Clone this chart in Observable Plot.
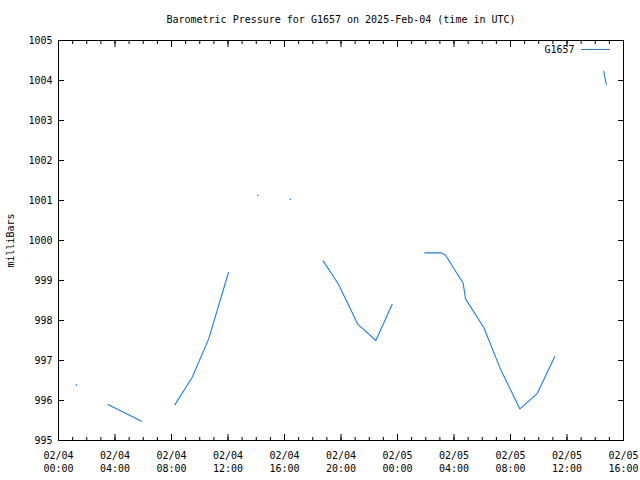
<!DOCTYPE html>
<html><head><meta charset="utf-8">
<script src="https://cdn.jsdelivr.net/npm/d3@7"></script>
<script src="https://cdn.jsdelivr.net/npm/@observablehq/plot@0.6"></script>
<style>
body{margin:0;background:#fff}
#chart{width:640px;height:480px}
</style></head><body><div id="chart"></div>
<script>
const title = "Barometric Pressure for G1657 on 2025-Feb-04 (time in UTC)";
const yLabel = "milliBars";
const seriesName = "G1657";
// null entries mark gaps in the record
const times = [
  "2025-02-04T01:16Z", null,
  "2025-02-04T03:30Z", "2025-02-04T05:53Z", null,
  "2025-02-04T08:14Z", "2025-02-04T09:28Z", "2025-02-04T10:38Z", "2025-02-04T12:02Z", null,
  "2025-02-04T14:07Z", null,
  "2025-02-04T16:25Z", null,
  "2025-02-04T18:44Z", "2025-02-04T19:48Z", "2025-02-04T21:13Z", "2025-02-04T21:34Z", "2025-02-04T22:28Z", "2025-02-04T23:37Z", null,
  "2025-02-05T01:56Z", "2025-02-05T03:07Z", "2025-02-05T03:24Z", "2025-02-05T04:39Z", "2025-02-05T04:49Z", "2025-02-05T06:07Z", "2025-02-05T07:17Z", "2025-02-05T08:40Z", "2025-02-05T09:53Z", "2025-02-05T11:08Z", null,
  "2025-02-05T14:36Z", "2025-02-05T14:47Z"
];
const pressure = [
  996.39, null,
  995.90, 995.48, null,
  995.89, 996.58, 997.54, 999.20, null,
  1001.13, null,
  1001.03, null,
  999.49, 998.92, 997.89, 997.79, 997.50, 998.40, null,
  999.69, 999.69, 999.63, 998.93, 998.54, 997.82, 996.79, 995.79, 996.17, 997.10, null,
  1004.23, 1003.90
];
const yTicks = [995, 996, 997, 998, 999, 1000, 1001, 1002, 1003, 1004, 1005];
const xTickTimes = [
  "2025-02-04T00:00Z", "2025-02-04T04:00Z", "2025-02-04T08:00Z", "2025-02-04T12:00Z",
  "2025-02-04T16:00Z", "2025-02-04T20:00Z", "2025-02-05T00:00Z", "2025-02-05T04:00Z",
  "2025-02-05T08:00Z", "2025-02-05T12:00Z", "2025-02-05T16:00Z"
];

const color = "#1a7ff0";
const rows = times.map((t, i) => ({t: t ? new Date(t) : null, p: pressure[i]}));
const isolated = rows.filter((r, i) => r.p != null &&
  (i === 0 || rows[i - 1].p == null) && (i === rows.length - 1 || rows[i + 1].p == null));
const xTicks = xTickTimes.map(s => new Date(s));
const xDomain = [xTicks[0], xTicks[xTicks.length - 1]];
const minorTicks = d3.utcHour.range(xDomain[0], new Date(+xDomain[1] + 1));

const plot = Plot.plot({
  width: 640, height: 480,
  marginLeft: 58, marginRight: 17, marginTop: 40, marginBottom: 40,
  style: {fontFamily: "'DejaVu Sans Mono', monospace", fontSize: "10px", background: "white", color: "black", overflow: "visible"},
  x: {type: "utc", domain: xDomain},
  y: {domain: [995, 1005]},
  marks: [
    Plot.axisX(minorTicks, {anchor: "bottom", tickSize: -3, tickFormat: () => "", label: null}),
    Plot.axisX(minorTicks, {anchor: "top", tickSize: -3, tickFormat: () => "", label: null}),
    Plot.axisX(xTicks, {anchor: "bottom", tickSize: -6, tickFormat: () => "", label: null}),
    Plot.axisX(xTicks, {anchor: "top", tickSize: -6, tickFormat: () => "", label: null}),
    Plot.axisX(xTicks, {anchor: "bottom", tickSize: 0, tickPadding: 9, lineHeight: 1.3,
      tickFormat: d3.utcFormat("%m/%d\n%H:%M"), label: null}),
    Plot.axisY(yTicks, {anchor: "left", tickSize: -6, tickFormat: () => "", label: null}),
    Plot.axisY(yTicks, {anchor: "right", tickSize: -6, tickFormat: () => "", label: null}),
    Plot.axisY(yTicks, {anchor: "left", tickSize: 0, tickPadding: 6, tickFormat: d => String(d), label: null}),
    Plot.frame({stroke: "black"}),
    Plot.line(rows, {x: "t", y: "p", stroke: color, strokeWidth: 1.1}),
    Plot.dot(isolated, {x: "t", y: "p", r: 0.7, fill: color, stroke: null}),
    Plot.text([title], {frameAnchor: "top", dy: -21, lineAnchor: "middle", textAnchor: "middle"}),
    Plot.text([yLabel], {frameAnchor: "left", dx: -48, rotate: -90, textAnchor: "middle", lineAnchor: "middle"}),
    Plot.text([seriesName], {frameAnchor: "top-right", dx: -49, dy: 9, textAnchor: "end", lineAnchor: "middle"})
  ]
});
// legend sample line
d3.select(plot).append("line")
  .attr("x1", 581).attr("x2", 610).attr("y1", 49.5).attr("y2", 49.5)
  .attr("stroke", color).attr("stroke-width", 1);
document.getElementById("chart").appendChild(plot);
</script></body></html>
